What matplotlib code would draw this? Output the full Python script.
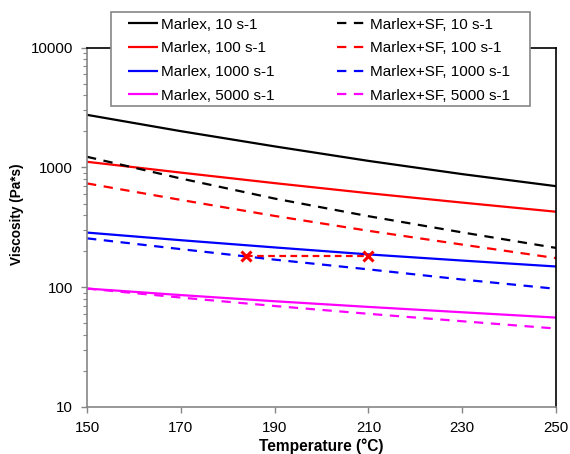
import matplotlib
matplotlib.use("Agg")
import matplotlib.pyplot as plt
from matplotlib.patches import Rectangle
from matplotlib.ticker import LogLocator, NullFormatter, FixedLocator

plt.rcParams['font.family'] = ['Liberation Sans', 'DejaVu Sans']

# ---- data ----
temperature = [150, 170, 190, 210, 230, 250]
marlex_10 = [2750, 2010, 1500, 1135, 880, 698]
marlex_100 = [1115, 906, 740, 610, 509, 427]
marlex_1000 = [286, 247, 215, 188, 167, 149]
marlex_5000 = [97.5, 86, 76.4, 68.5, 61.8, 55.8]
sf_10 = [1228, 809, 550, 392, 287, 213]
sf_100 = [736, 536, 394, 296, 227, 175]
sf_1000 = [256, 208, 170, 141, 116, 97]
sf_5000 = [97.5, 82, 69.7, 60, 52, 45.2]
marker_T = [184, 210]
marker_visc = [182, 182]

labels_solid = ["Marlex, 10 s-1", "Marlex, 100 s-1", "Marlex, 1000 s-1", "Marlex, 5000 s-1"]
labels_dash = ["Marlex+SF, 10 s-1", "Marlex+SF, 100 s-1", "Marlex+SF, 1000 s-1", "Marlex+SF, 5000 s-1"]
colors = ["#000000", "#ff0000", "#0000ff", "#ff00ff"]
x_ticks = [150, 170, 190, 210, 230, 250]
y_ticks = [10, 100, 1000, 10000]

W, H = 570, 454
fig = plt.figure(figsize=(W / 100, H / 100), dpi=100)
ax = fig.add_axes([87 / W, 1 - 407 / H, (556 - 87) / W, (407 - 47.7) / H])

lw = 1.6
dash = (4.2, 3.4)
handles = []
for vals, c, lab in zip([marlex_10, marlex_100, marlex_1000, marlex_5000], colors, labels_solid):
    h, = ax.plot(temperature, vals, color=c, lw=lw, label=lab, solid_capstyle='butt')
    handles.append(h)
for vals, c, lab in zip([sf_10, sf_100, sf_1000, sf_5000], colors, labels_dash):
    h, = ax.plot(temperature, vals, color=c, lw=lw, dashes=dash, label=lab, dash_capstyle='butt')
    handles.append(h)

ax.plot(marker_T, marker_visc, color="#ff0000", lw=lw, dashes=(3, 2),
        marker='x', markersize=7, markeredgewidth=2.2, zorder=5)

ax.set_yscale('log')
ax.set_xlim(150, 250)
ax.set_ylim(10, 10000)
ax.xaxis.set_major_locator(FixedLocator(x_ticks))
ax.set_xticklabels([str(t) for t in x_ticks])
ax.yaxis.set_major_locator(FixedLocator(y_ticks))
ax.set_yticklabels([str(t) for t in y_ticks])
ax.yaxis.set_minor_locator(LogLocator(base=10, subs=range(2, 10)))
ax.yaxis.set_minor_formatter(NullFormatter())

ax.tick_params(axis='both', which='major', direction='out', length=4, width=1,
               color='#868686', labelsize=10.8, pad=6)
ax.tick_params(axis='y', which='minor', direction='out', length=3, width=0.8, color='#868686')
ax.tick_params(axis='x', which='major', pad=6)

for s in ['left', 'bottom']:
    ax.spines[s].set_color('#868686')
    ax.spines[s].set_linewidth(1.2)
for s in ['top', 'right']:
    ax.spines[s].set_color('#000000')
    ax.spines[s].set_linewidth(1.2)

fig.text(17 / W, 1 - 214 / H, "Viscosity (Pa*s)", rotation=90, ha='center', va='center',
         fontsize=9.8, fontweight='bold')
fig.text(321 / W, 1 - 446.5 / H, "Temperature (°C)", ha='center', va='center',
         fontsize=11.2, fontweight='bold')

# legend frame
rect = Rectangle((111 / W, 1 - 106 / H), (530 - 111) / W, (106 - 12) / H,
                 transform=fig.transFigure, facecolor='white', edgecolor='#868686',
                 linewidth=1.2, zorder=1)
fig.add_artist(rect)

fig.legend(handles=handles, ncol=2, loc='upper left',
           bbox_to_anchor=(128 / W, 1 - 17.8 / H), bbox_transform=fig.transFigure,
           frameon=False, borderpad=0, borderaxespad=0, fontsize=11,
           handlelength=1.96, handletextpad=0.2, columnspacing=4.07, labelspacing=0.63)

fig.savefig("out.png", dpi=100)
